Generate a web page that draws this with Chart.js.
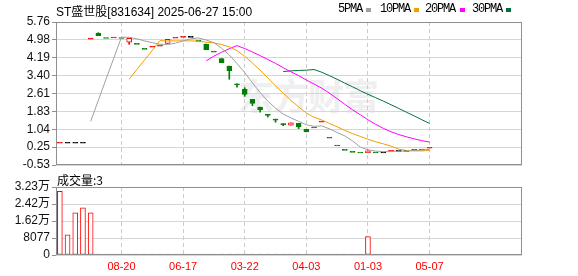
<!DOCTYPE html>
<html><head><meta charset="utf-8">
<script src="https://cdn.jsdelivr.net/npm/chart.js@4/dist/chart.umd.min.js"></script>
<style>
html,body{margin:0;padding:0;background:#fff;width:578px;height:276px;overflow:hidden;}
#wrap{position:relative;width:578px;height:276px;}
.t{position:absolute;white-space:nowrap;color:#000;line-height:12px;}
.mono{font-family:"Liberation Mono",monospace;font-size:12px;letter-spacing:-1.2px;}
#title{left:56px;top:2px;font:12px "Liberation Sans","Noto Sans CJK SC",sans-serif;}
#vol{left:57px;top:171px;font:12px "Noto Sans CJK SC",sans-serif;}
.sq{position:absolute;width:5px;height:4px;}
#wm{position:absolute;left:238px;top:68px;font:bold 36px "Noto Sans CJK SC",sans-serif;color:#efeff1;letter-spacing:-1px;}
canvas{position:absolute;left:0;}
#c1{top:0;}
#c2{top:168px;}
</style></head>
<body><div id="wrap">
<div id="wm">东方财富</div>
<canvas id="c1" width="578" height="178"></canvas>
<canvas id="c2" width="578" height="108"></canvas>
<div class="t" id="title">ST盛世股[831634] 2025-06-27 15:00</div>
<div class="t mono" style="left:338px;top:3px;">5PMA</div><div class="sq" style="left:366px;top:8px;background:#a0a0a0"></div>
<div class="t mono" style="left:380px;top:3px;">10PMA</div><div class="sq" style="left:414px;top:8px;background:#f0a000"></div>
<div class="t mono" style="left:425px;top:3px;">20PMA</div><div class="sq" style="left:460px;top:8px;background:#ff00ff"></div>
<div class="t mono" style="left:472px;top:3px;">30PMA</div><div class="sq" style="left:506px;top:8px;background:#00703c"></div>
<div class="t" id="vol">成交量:3</div>
</div>
<script>
// ---- data ----
const open  = [0.47,0.47,0.47,0.47,5.05,5.26,5.08,5.10,5.08,4.87,4.82,4.60,4.70,4.74,4.82,5.09,5.13,5.13,4.95,4.79,4.48,4.15,3.82,3.04,2.81,2.36,2.02,1.70,1.49,1.29,1.22,1.30,1.04,1.14,1.40,0.69,0.35,0.16,0.07,0.04,0.01,0.04,0.04,0.11,0.11,0.11,0.16,0.17,0.25];
const high  = [0.47,0.47,0.47,0.47,5.05,5.29,5.08,5.10,5.08,5.04,4.82,4.60,4.70,4.74,5.00,5.09,5.13,5.13,4.95,4.79,4.48,4.15,3.82,3.04,2.87,2.36,2.02,1.70,1.49,1.29,1.32,1.30,1.04,1.14,1.40,0.69,0.35,0.16,0.07,0.04,0.09,0.04,0.04,0.11,0.11,0.11,0.16,0.17,0.25];
const low   = [0.47,0.47,0.47,0.47,5.05,5.16,5.08,5.10,5.08,4.78,4.82,4.60,4.70,4.74,4.82,5.09,5.13,5.13,4.95,4.54,4.48,3.97,3.24,2.89,2.49,2.08,1.79,1.58,1.35,1.20,1.22,1.07,0.93,1.14,1.40,0.69,0.35,0.16,0.07,0.04,0.01,0.04,0.04,0.11,0.11,0.11,0.16,0.17,0.25];
const close = [0.47,0.47,0.47,0.47,5.05,5.16,5.08,5.10,5.08,5.04,4.82,4.60,4.70,4.74,5.00,5.09,5.13,5.13,4.95,4.54,4.48,3.97,3.62,3.04,2.58,2.18,1.90,1.70,1.49,1.29,1.32,1.15,0.93,1.14,1.40,0.69,0.35,0.16,0.07,0.04,0.09,0.04,0.04,0.11,0.11,0.11,0.16,0.17,0.25];
const volume = [30260,9560,20070,22460,20070,12,8,15,6,20,9,11,7,5,14,10,6,8,12,9,7,16,13,10,8,11,9,6,7,5,12,8,10,6,9,7,5,8,6,4,8750,6,5,7,5,4,6,5,3];
const volumeDir = ['up','up','up','up','up','up','up','up','up','up','up','up','up','up','up','up','down','down','down','down','down','down','down','down','down','down','down','down','down','down','up','up','up','up','up','up','up','up','up','up','up','up','up','up','up','up','up','up','up'];
const ma5  = [null,null,null,null,1.39,2.32,3.25,4.17,5.09,5.09,5.02,4.93,4.85,4.78,4.77,4.83,4.93,5.02,5.06,4.97,4.85,4.61,4.31,3.93,3.54,3.08,2.66,2.28,1.97,1.71,1.54,1.39,1.24,1.17,1.19,1.06,0.90,0.75,0.53,0.26,0.14,0.08,0.06,0.06,0.08,0.08,0.11,0.13,0.16];
const ma10 = [null,null,null,null,null,null,null,null,null,3.24,3.67,4.09,4.51,4.94,4.93,4.93,4.93,4.93,4.92,4.87,4.84,4.77,4.67,4.50,4.25,3.96,3.64,3.30,2.95,2.63,2.31,2.03,1.76,1.57,1.45,1.30,1.15,0.99,0.85,0.73,0.60,0.49,0.40,0.30,0.17,0.11,0.09,0.09,0.11];
const ma20 = [null,null,null,null,null,null,null,null,null,null,null,null,null,null,null,null,null,null,null,4.05,4.26,4.43,4.59,4.72,4.59,4.44,4.28,4.11,3.94,3.75,3.57,3.40,3.21,3.03,2.85,2.63,2.39,2.14,1.90,1.68,1.46,1.26,1.08,0.93,0.81,0.71,0.62,0.54,0.48];
const ma30 = [null,null,null,null,null,null,null,null,null,null,null,null,null,null,null,null,null,null,null,null,null,null,null,null,null,null,null,null,null,3.58,3.61,3.63,3.64,3.67,3.55,3.40,3.24,3.07,2.91,2.74,2.58,2.43,2.28,2.12,1.96,1.79,1.63,1.46,1.30];
const xTickIndex  = [8,16,24,32,40,48];
const xTickLabels = ['08-20','06-17','03-22','04-03','01-03','05-07'];
const yTickValues = [-0.53,0.256,1.043,1.829,2.615,3.401,4.188,4.974,5.76];
const yTickLabels = ['-0.53','0.25','1.04','1.83','2.61','3.40','4.19','4.98','5.76'];
const vTickValues = [0,8077,16154,24231,32308];
const vTickLabels = ['0','8077','1.62万','2.42万','3.23万'];
const slotCount = 60;

// ---- styles ----
const RED='#ff0000', GREEN='#008000', BLACK='#000000';
const dir = close.map((c,i)=>{
  if (c>open[i]) return RED;
  if (c<open[i]) return GREEN;
  if (i===0) return RED;
  if (c>close[i-1]) return RED;
  if (c<close[i-1]) return GREEN;
  return BLACK;
});
const bodyFill = close.map((c,i)=> (c>open[i]) ? '#ffffff' : dir[i]);
const volBorder = volumeDir.map(d=> d==='up' ? RED : GREEN);
const volFill = volumeDir.map(d=> d==='up' ? '#ffffff' : GREEN);

const frame = {id:'frame', afterDraw(c){
  const {ctx, chartArea:a} = c;
  ctx.save(); ctx.strokeStyle='#8f8f8f'; ctx.lineWidth=1;
  ctx.strokeRect(Math.round(a.left)+0.5, Math.round(a.top)+0.5, Math.round(a.right-a.left)-1, Math.round(a.bottom-a.top)-1);
  ctx.restore();
}};

const labelFont = {family:"'Liberation Sans','Noto Sans CJK SC'", size:12};

function xScale(showLabels){
  return {
    type:'linear', min:-0.5, max:slotCount, offset:false,
    afterBuildTicks:s=>{ s.ticks = xTickIndex.map(v=>({value:v})); },
    ticks:{display:showLabels, color:RED, font:{family:'Liberation Sans', size:11}, padding:5, maxRotation:0, autoSkip:false,
           callback:(v)=> xTickLabels[xTickIndex.indexOf(v)]},
    grid:{color:'#cccccc', drawTicks:false, offset:false},
    border:{display:false, dash:[4,3]},
    afterFit:s=>{ s.height = showLabels ? 21 : 0; }
  };
}
function yScale(min,max,vals,labels){
  return {min:min, max:max,
    afterBuildTicks:s=>{ s.ticks = vals.map(v=>({value:v})); },
    ticks:{color:'#111', font:labelFont, padding:2, autoSkip:false, callback:(v,i)=>labels[i]},
    grid:{color:'#d6d6d6', tickLength:4, tickColor:'#8f8f8f'},
    border:{display:false},
    afterFit:s=>{ s.width = 56; }};
}

const idx = close.map((_,i)=>i);
const lineDs = (arr,color)=>({type:'line', data:idx.map(i=>({x:i,y:arr[i]})), borderColor:color, borderWidth:1, pointRadius:0, tension:0, order:0, spanGaps:false});

new Chart(document.getElementById('c1'), {
  type:'bar',
  data:{datasets:[
    {data:idx.map(i=>({x:i, y: high[i]>low[i] ? [low[i],high[i]] : null})), backgroundColor:dir, borderWidth:0, barThickness:1, grouped:false, order:2},
    {data:idx.map(i=>({x:i, y:[open[i],close[i]]})), backgroundColor:bodyFill, borderColor:dir, borderWidth:1, borderSkipped:false, barThickness:5, minBarLength:1, grouped:false, order:1},
    lineDs(ma5,'#a0a0a0'), lineDs(ma10,'#f0a000'), lineDs(ma20,'#ff00ff'), lineDs(ma30,'#00703c')
  ]},
  options:{
    responsive:false, animation:false, events:[],
    layout:{padding:{top:22,right:56,bottom:13,left:0}},
    plugins:{legend:{display:false}, tooltip:{enabled:false}},
    scales:{ x: xScale(false), y: yScale(-0.53, 5.76, yTickValues, yTickLabels) }
  },
  plugins:[frame]
});

new Chart(document.getElementById('c2'), {
  type:'bar',
  data:{datasets:[
    {data:idx.map(i=>({x:i, y:volume[i]})), backgroundColor:volFill, borderColor:volBorder, borderWidth:1, borderSkipped:false, barThickness:5, minBarLength:1}
  ]},
  options:{
    responsive:false, animation:false, events:[],
    layout:{padding:{top:19,right:56,bottom:0,left:0}},
    plugins:{legend:{display:false}, tooltip:{enabled:false}},
    scales:{ x: xScale(true), y: yScale(0, 32308, vTickValues, vTickLabels) }
  },
  plugins:[frame]
});
</script>
</body></html>
